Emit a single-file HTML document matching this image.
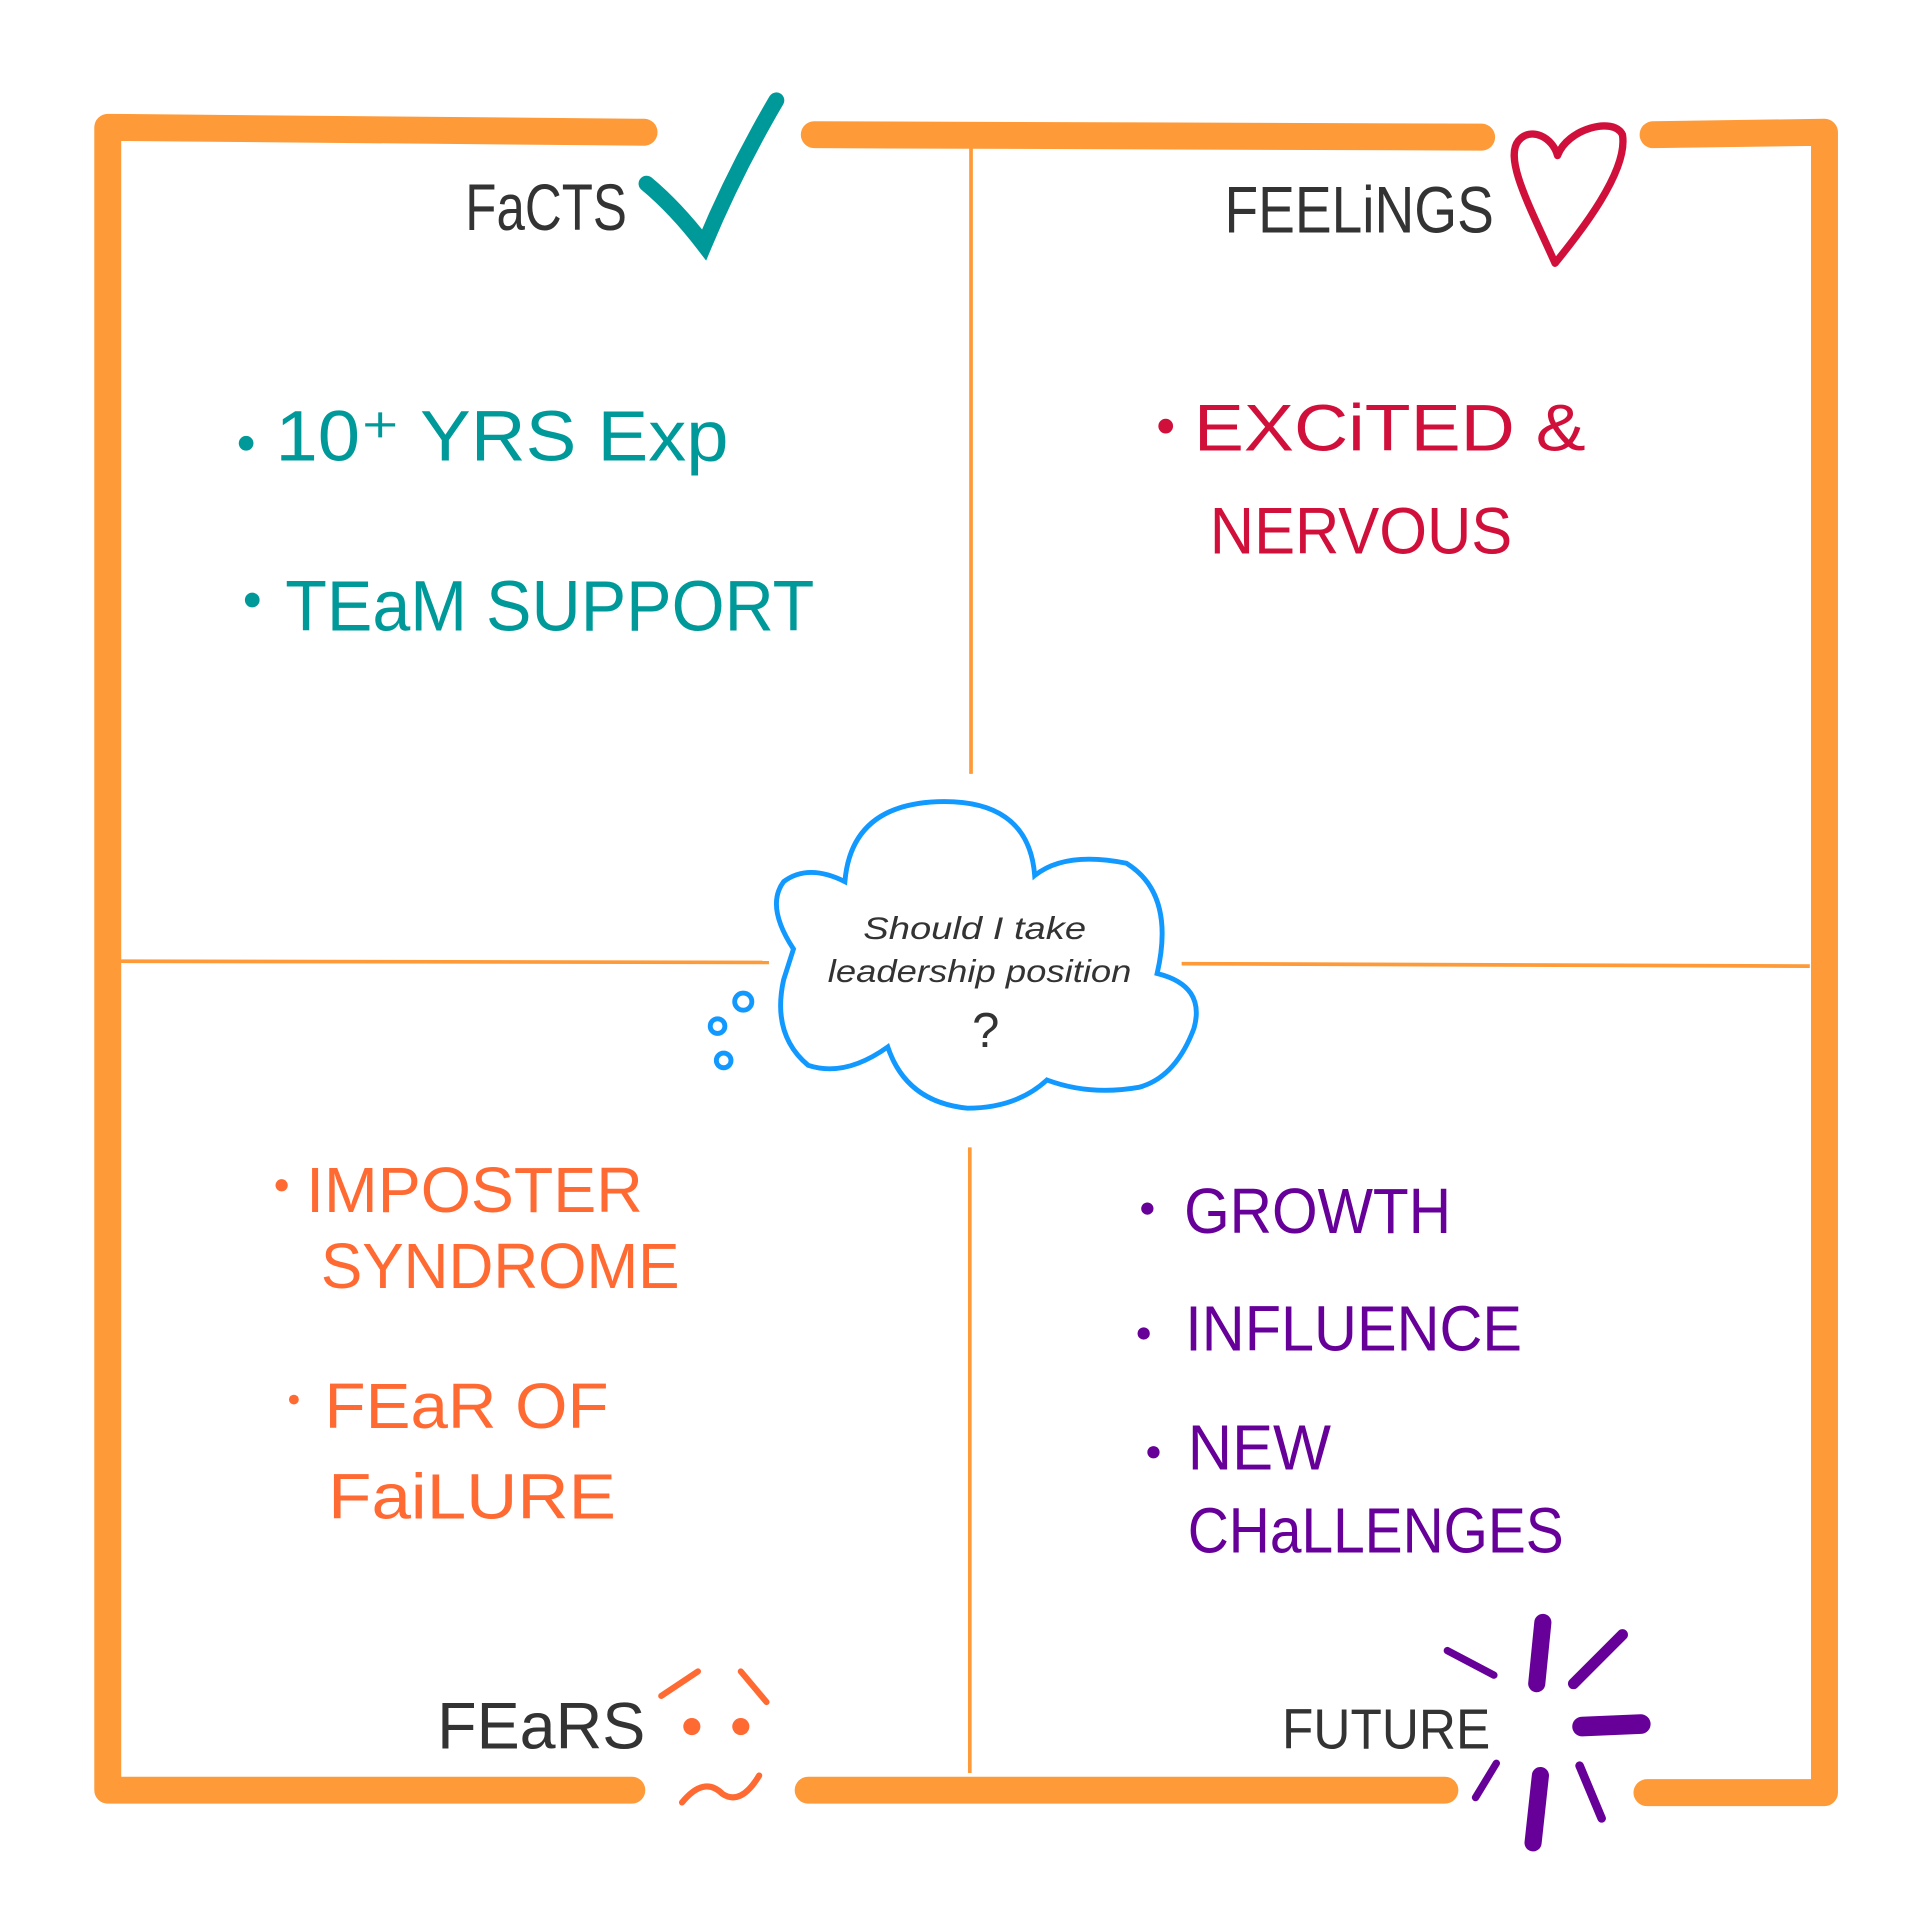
<!DOCTYPE html>
<html><head><meta charset="utf-8"><style>
html,body{margin:0;padding:0;background:#fff;}
svg{display:block}
text{font-family:"Liberation Sans",sans-serif;}
</style></head><body>
<svg width="1920" height="1920" viewBox="0 0 1568 1568" xmlns="http://www.w3.org/2000/svg">
<g fill="none" stroke="#fe9a38" stroke-width="22" stroke-linecap="round" stroke-linejoin="round">
<path d="M526,108 L88,104 L88,1462 L516,1462"/>
<path d="M665,110 L1210,112"/>
<path d="M1350,110 L1490,108 L1490,1464 L1345,1464"/>
<path d="M660,1462 L1180,1462"/>
</g>
<g stroke="#fe9a38" stroke-width="3">
<line x1="793" y1="120" x2="793" y2="632"/>
<line x1="792" y1="937" x2="792" y2="1448"/>
<line x1="98" y1="785" x2="628" y2="786"/>
<line x1="965" y1="787" x2="1478" y2="789"/>
</g>
<!-- check -->
<path d="M528,150 Q552,170 575,200 Q600,140 634,82" fill="none" stroke="#009999" stroke-width="13" stroke-linecap="round"/>
<!-- heart -->
<path d="M1270,215 C1250,170 1228,130 1240,115 C1250,103 1268,112 1272,127 C1280,105 1318,95 1325,110 C1330,140 1290,190 1270,215 Z" fill="none" stroke="#d0103a" stroke-width="6" stroke-linejoin="round"/>
<!-- sad face -->
<g stroke="#ff6a33" stroke-width="5" stroke-linecap="round" fill="none">
<line x1="540" y1="1385" x2="570" y2="1365"/><line x1="605" y1="1365" x2="626" y2="1390"/>
<path d="M557,1472 Q575,1450 590,1465 Q605,1475 620,1450"/>
</g>
<circle cx="565" cy="1410" r="7" fill="#ff6a33"/><circle cx="605" cy="1410" r="7" fill="#ff6a33"/>
<!-- sun burst -->
<g stroke="#660099" stroke-linecap="round" fill="none">
<line x1="1260" y1="1325" x2="1255" y2="1375" stroke-width="14"/>
<line x1="1325" y1="1335" x2="1285" y2="1375" stroke-width="9"/>
<line x1="1182" y1="1348" x2="1220" y2="1368" stroke-width="6"/>
<line x1="1292" y1="1410" x2="1340" y2="1408" stroke-width="16"/>
<line x1="1222" y1="1440" x2="1205" y2="1468" stroke-width="6"/>
<line x1="1258" y1="1450" x2="1252" y2="1505" stroke-width="14"/>
<line x1="1290" y1="1442" x2="1308" y2="1485" stroke-width="7"/>
</g>
<!-- cloud -->
<path d="M648,775 Q625,740 640,720 Q660,705 690,720 Q695,660 760,655 Q840,650 845,715 Q870,695 920,705 Q960,730 945,795 Q985,805 975,840 Q960,880 930,888 Q890,895 855,882 Q830,905 790,905 Q740,900 725,855 Q690,880 660,870 Q630,845 640,800 Z" fill="none" stroke="#1199ff" stroke-width="4"/>
<g fill="none" stroke="#1199ff" stroke-width="4">
<circle cx="607" cy="818" r="7"/><circle cx="586" cy="838" r="6"/><circle cx="591" cy="866" r="6"/>
</g>
<text x="705" y="767" font-size="26" fill="#333" font-style="italic" textLength="182" lengthAdjust="spacingAndGlyphs">Should I take</text>
<text x="676" y="802" font-size="26" fill="#333" font-style="italic" textLength="248" lengthAdjust="spacingAndGlyphs">leadership position</text>
<text x="805" y="855" font-size="40" fill="#333" text-anchor="middle">?</text>
<g font-size="54" fill="#333" lengthAdjust="spacingAndGlyphs">
<text x="380" y="188" textLength="132" lengthAdjust="spacingAndGlyphs">FaCTS</text>
<text x="1000" y="190" textLength="220" lengthAdjust="spacingAndGlyphs">FEELiNGS</text>
<text x="357" y="1428" textLength="170" lengthAdjust="spacingAndGlyphs">FEaRS</text>
<text x="1047" y="1428" font-size="46" textLength="170" lengthAdjust="spacingAndGlyphs">FUTURE</text>
</g>
<g fill="#009999" font-size="58">
<circle cx="201" cy="362" r="6"/>
<text x="225" y="376" textLength="370" lengthAdjust="spacingAndGlyphs">10⁺ YRS  Exp</text>
<circle cx="206" cy="490" r="6"/>
<text x="233" y="515" textLength="432" lengthAdjust="spacingAndGlyphs">TEaM SUPPORT</text>
</g>
<g fill="#d0103a" font-size="54">
<circle cx="952" cy="348" r="6"/>
<text x="975" y="368" textLength="320" lengthAdjust="spacingAndGlyphs">EXCiTED &amp;</text>
<text x="988" y="452" textLength="247" lengthAdjust="spacingAndGlyphs">NERVOUS</text>
</g>
<g fill="#ff6a33" font-size="52">
<circle cx="230" cy="968" r="5"/>
<text x="250" y="990" textLength="275" lengthAdjust="spacingAndGlyphs">IMPOSTER</text>
<text x="262" y="1052" textLength="293" lengthAdjust="spacingAndGlyphs">SYNDROME</text>
<circle cx="240" cy="1143" r="4"/>
<text x="265" y="1166" textLength="232" lengthAdjust="spacingAndGlyphs">FEaR  OF</text>
<text x="268" y="1240" textLength="235" lengthAdjust="spacingAndGlyphs">FaiLURE</text>
</g>
<g fill="#660099" font-size="52">
<circle cx="937" cy="987" r="5"/>
<text x="967" y="1007" textLength="218" lengthAdjust="spacingAndGlyphs">GROWTH</text>
<circle cx="934" cy="1089" r="5"/>
<text x="968" y="1103" textLength="275" lengthAdjust="spacingAndGlyphs">INFLUENCE</text>
<circle cx="942" cy="1186" r="5"/>
<text x="970" y="1200" textLength="117" lengthAdjust="spacingAndGlyphs">NEW</text>
<text x="970" y="1268" textLength="307" lengthAdjust="spacingAndGlyphs">CHaLLENGES</text>
</g>
</svg>
</body></html>
